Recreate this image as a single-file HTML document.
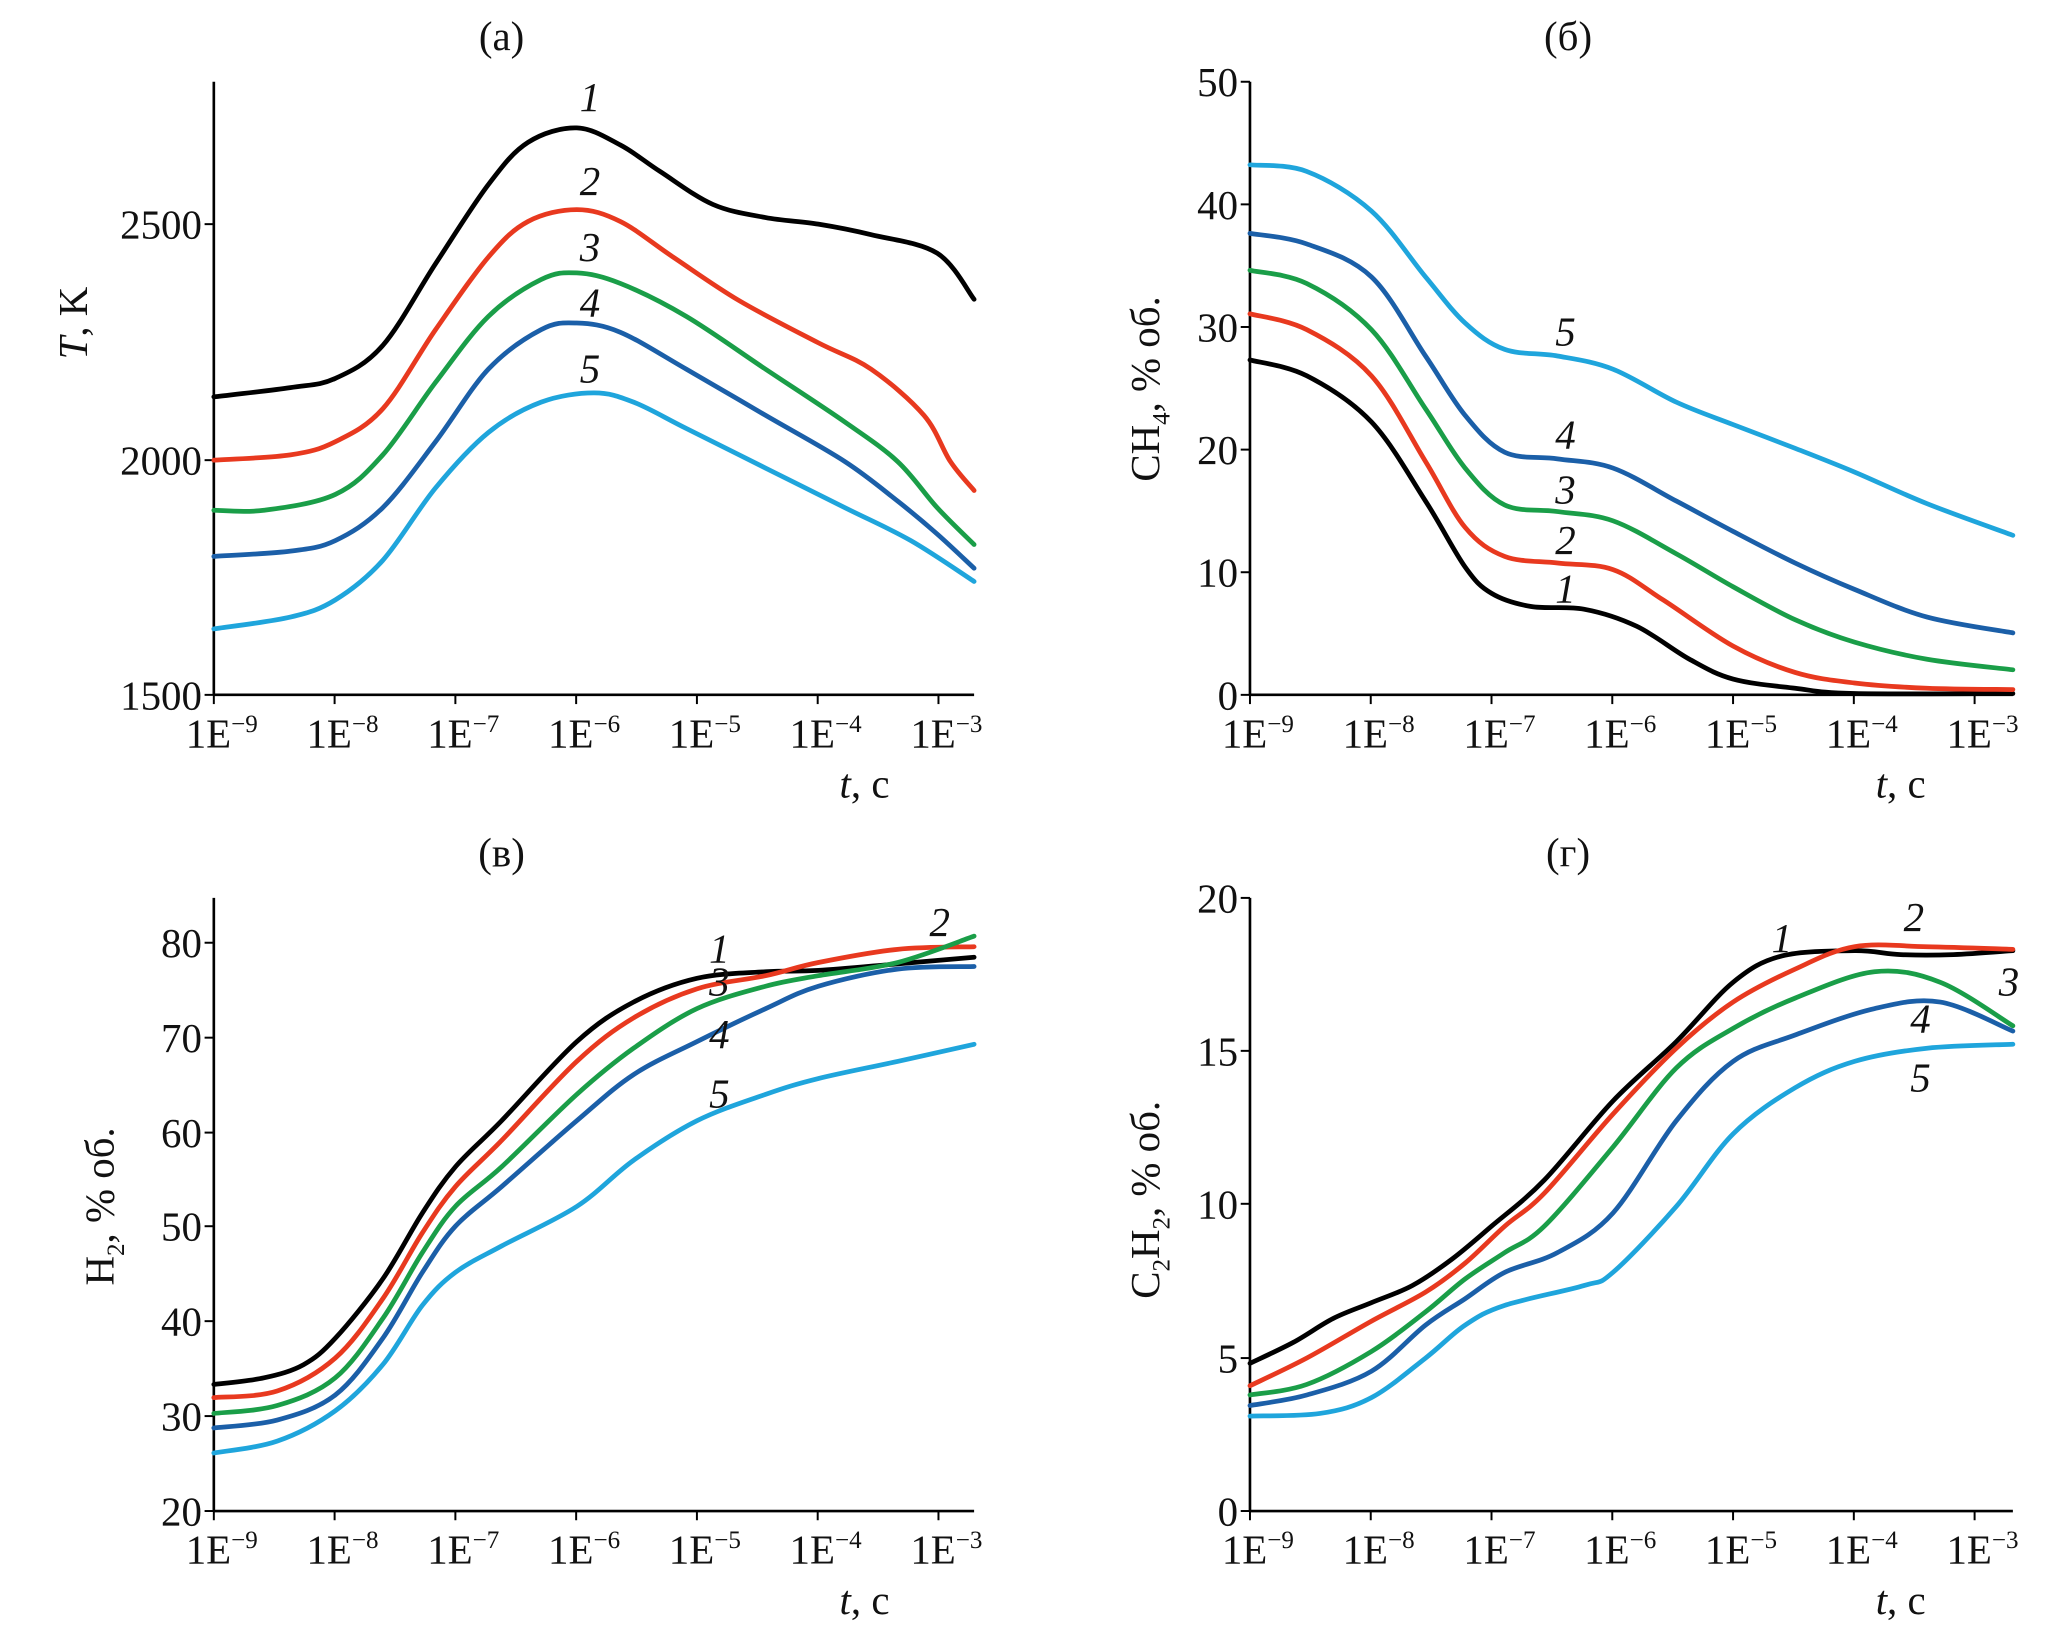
<!DOCTYPE html>
<html><head><meta charset="utf-8"><style>
html,body{margin:0;padding:0;background:#fff;}
svg{display:block;}
text{font-family:"Liberation Serif",serif;fill:#111;}
</style></head><body>
<svg id="s" width="2067" height="1631" viewBox="0 0 1566 1237" preserveAspectRatio="none" xmlns="http://www.w3.org/2000/svg"></svg>
<script>
const S=document.getElementById('s');
let h='';
const C=['#000','#e8391f','#1a9e48','#1b5fa8','#1fa5dc'];
function path(p,c){let d='M'+p[0][0]+','+p[0][1];
for(let i=0;i<p.length-1;i++){const p0=p[i-1]||p[i],p1=p[i],p2=p[i+1],p3=p[i+2]||p2;
d+=' C'+(p1[0]+(p2[0]-p0[0])/6)+','+(p1[1]+(p2[1]-p0[1])/6)+' '+(p2[0]-(p3[0]-p1[0])/6)+','+(p2[1]-(p3[1]-p1[1])/6)+' '+p2[0]+','+p2[1];}
h+=`<path d="${d}" fill="none" stroke="${c}" stroke-width="3.6" stroke-linecap="round" stroke-linejoin="round"/>`;}
function axes(x0,top,bot,xend,yt,title,tx){
h+=`<line x1="${x0}" y1="${top}" x2="${x0}" y2="${bot}" stroke="#000" stroke-width="2"/>`;
h+=`<line x1="${x0}" y1="${bot}" x2="${xend}" y2="${bot}" stroke="#000" stroke-width="2"/>`;
for(const [v,y] of yt){h+=`<line x1="${x0-7}" y1="${y}" x2="${x0}" y2="${y}" stroke="#000" stroke-width="1.5"/>`;
h+=`<text x="${x0-9}" y="${y+11}" font-size="31" text-anchor="end">${v}</text>`;}
for(let i=0;i<7;i++){const x=x0+i*91.5;h+=`<line x1="${x}" y1="${bot}" x2="${x}" y2="${bot+7}" stroke="#000" stroke-width="1.5"/>`;
h+=`<text x="${x+6}" y="${bot+40}" font-size="31" text-anchor="middle">1E<tspan font-size="19" dy="-12">−${9-i}</tspan></text>`;}
h+=`<text x="${x0+493}" y="${bot+78}" font-size="31" text-anchor="middle"><tspan font-style="italic">t</tspan>, с</text>`;
h+=`<text x="${tx}" y="${top-24}" font-size="31" text-anchor="middle">${title}</text>`;}
function lab(n,x,y){h+=`<text x="${x}" y="${y}" font-size="31" font-style="italic" text-anchor="middle">${n}</text>`;}
// (a)
axes(162,62,527,738,[[1500,527],[2000,349],[2500,170]],'(а)',380);
[[[162,301],[220,294],[254,287],[290,262],[330,200],[370,140],[400,108],[437,97],[470,110],[500,130],[540,155],[580,165],[620,170],[660,178],[710,192],[738,227]],
[[162,349],[220,345],[254,335],[290,310],[330,250],[370,195],[400,168],[437,159],[470,168],[510,195],[560,228],[620,260],[660,280],[700,315],[720,350],[738,372]],
[[162,387],[200,387],[254,375],[290,345],[330,290],[370,240],[410,212],[437,207],[470,215],[520,240],[580,280],[640,320],[680,350],[710,385],[738,413]],
[[162,422],[220,418],[254,410],[290,385],[330,335],[370,280],[410,250],[437,245],[470,252],[520,280],[580,315],[640,350],[680,380],[710,405],[738,431]],
[[162,477],[220,468],[254,455],[290,425],[330,370],[370,328],[410,305],[450,298],[480,305],[520,325],[580,355],[640,385],[690,410],[738,441]]].forEach((p,i)=>path(p,C[i]));
[[1,447,84],[2,447,148],[3,447,198],[4,447,240],[5,447,290]].forEach(a=>lab(...a));
h+=`<text transform="translate(66,245) rotate(-90)" font-size="31" text-anchor="middle"><tspan font-style="italic">T</tspan>, K</text>`;
// (б)
axes(947,62,527,1525,[[0,527],[10,434],[20,341],[30,248],[40,155],[50,62]],'(б)',1188);
[[[947,273],[990,285],[1039,320],[1080,380],[1110,430],[1130,450],[1160,460],[1200,462],[1240,475],[1280,500],[1313,515],[1360,522],[1405,526],[1525,526]],
[[947,238],[990,250],[1039,285],[1080,350],[1110,400],[1140,422],[1180,427],[1222,432],[1260,455],[1313,490],[1360,510],[1405,518],[1460,522],[1525,523]],
[[947,205],[990,215],[1039,250],[1080,310],[1110,355],[1140,383],[1180,388],[1222,395],[1270,420],[1313,445],[1360,470],[1405,487],[1460,500],[1525,508]],
[[947,177],[990,185],[1039,210],[1080,270],[1110,315],[1140,343],[1180,348],[1222,355],[1270,380],[1313,403],[1360,427],[1405,447],[1460,468],[1525,480]],
[[947,125],[990,130],[1039,160],[1080,210],[1110,245],[1140,265],[1180,270],[1222,280],[1270,305],[1313,322],[1360,340],[1405,358],[1460,382],[1525,406]]].forEach((p,i)=>path(p,C[i]));
[[5,1186,262],[4,1186,340],[3,1186,382],[2,1186,420],[1,1186,457]].forEach(a=>lab(...a));
h+=`<text transform="translate(878,295) rotate(-90)" font-size="31" text-anchor="middle">CH<tspan font-size="19" dy="8">4</tspan><tspan dy="-8">, % об.</tspan></text>`;
// (в)
axes(162,681,1146,738,[[20,1146],[30,1074],[40,1002],[50,930],[60,859],[70,787],[80,715]],'(в)',380);
[[[162,1050],[200,1045],[230,1035],[254,1015],[290,970],[320,920],[345,885],[380,850],[437,790],[480,760],[528,742],[580,737],[620,736],[680,731],[738,726]],
[[162,1060],[210,1055],[254,1030],[290,985],[320,935],[345,900],[380,865],[437,805],[480,772],[528,750],[580,740],[620,730],[680,720],[738,718]],
[[162,1072],[210,1066],[254,1045],[290,1000],[320,950],[345,915],[380,885],[437,830],[480,795],[528,765],[580,748],[620,740],[680,730],[738,710]],
[[162,1083],[210,1077],[254,1058],[290,1015],[320,965],[345,930],[380,900],[437,850],[480,815],[528,790],[580,765],[620,748],[680,735],[738,733]],
[[162,1102],[210,1093],[254,1070],[290,1035],[320,990],[345,965],[380,945],[437,915],[480,880],[528,850],[580,830],[620,818],[680,805],[738,792]]].forEach((p,i)=>path(p,C[i]));
[[1,545,730],[2,712,710],[3,545,755],[4,545,795],[5,545,840]].forEach(a=>lab(...a));
h+=`<text transform="translate(86,915) rotate(-90)" font-size="31" text-anchor="middle">H<tspan font-size="19" dy="8">2</tspan><tspan dy="-8">, % об.</tspan></text>`;
// (г)
axes(947,681,1146,1525,[[0,1146],[5,1030],[10,913],[15,797],[20,681]],'(г)',1188);
[[[947,1034],[980,1018],[1010,1000],[1039,988],[1070,975],[1100,955],[1130,930],[1170,895],[1222,835],[1270,790],[1313,745],[1350,725],[1405,721],[1440,724],[1480,724],[1525,721]],
[[947,1051],[990,1030],[1039,1002],[1080,980],[1110,958],[1140,930],[1170,905],[1222,845],[1270,795],[1313,760],[1360,735],[1405,718],[1460,718],[1525,720]],
[[947,1058],[990,1050],[1039,1025],[1080,995],[1110,970],[1140,950],[1170,930],[1222,870],[1270,810],[1313,780],[1360,757],[1420,737],[1470,745],[1525,778]],
[[947,1066],[990,1058],[1039,1040],[1080,1005],[1110,985],[1140,965],[1180,950],[1222,920],[1270,850],[1313,805],[1360,785],[1420,765],[1470,760],[1525,782]],
[[947,1074],[1000,1072],[1039,1060],[1080,1030],[1110,1005],[1140,990],[1200,975],[1222,965],[1270,915],[1313,860],[1360,825],[1405,805],[1460,795],[1525,792]]].forEach((p,i)=>path(p,C[i]));
[[1,1350,722],[2,1450,706],[3,1522,755],[4,1455,783],[5,1455,828]].forEach(a=>lab(...a));
h+=`<text transform="translate(878,910) rotate(-90)" font-size="31" text-anchor="middle">C<tspan font-size="19" dy="8">2</tspan><tspan dy="-8">H</tspan><tspan font-size="19" dy="8">2</tspan><tspan dy="-8">, % об.</tspan></text>`;
S.innerHTML=h;
</script>
</body></html>
